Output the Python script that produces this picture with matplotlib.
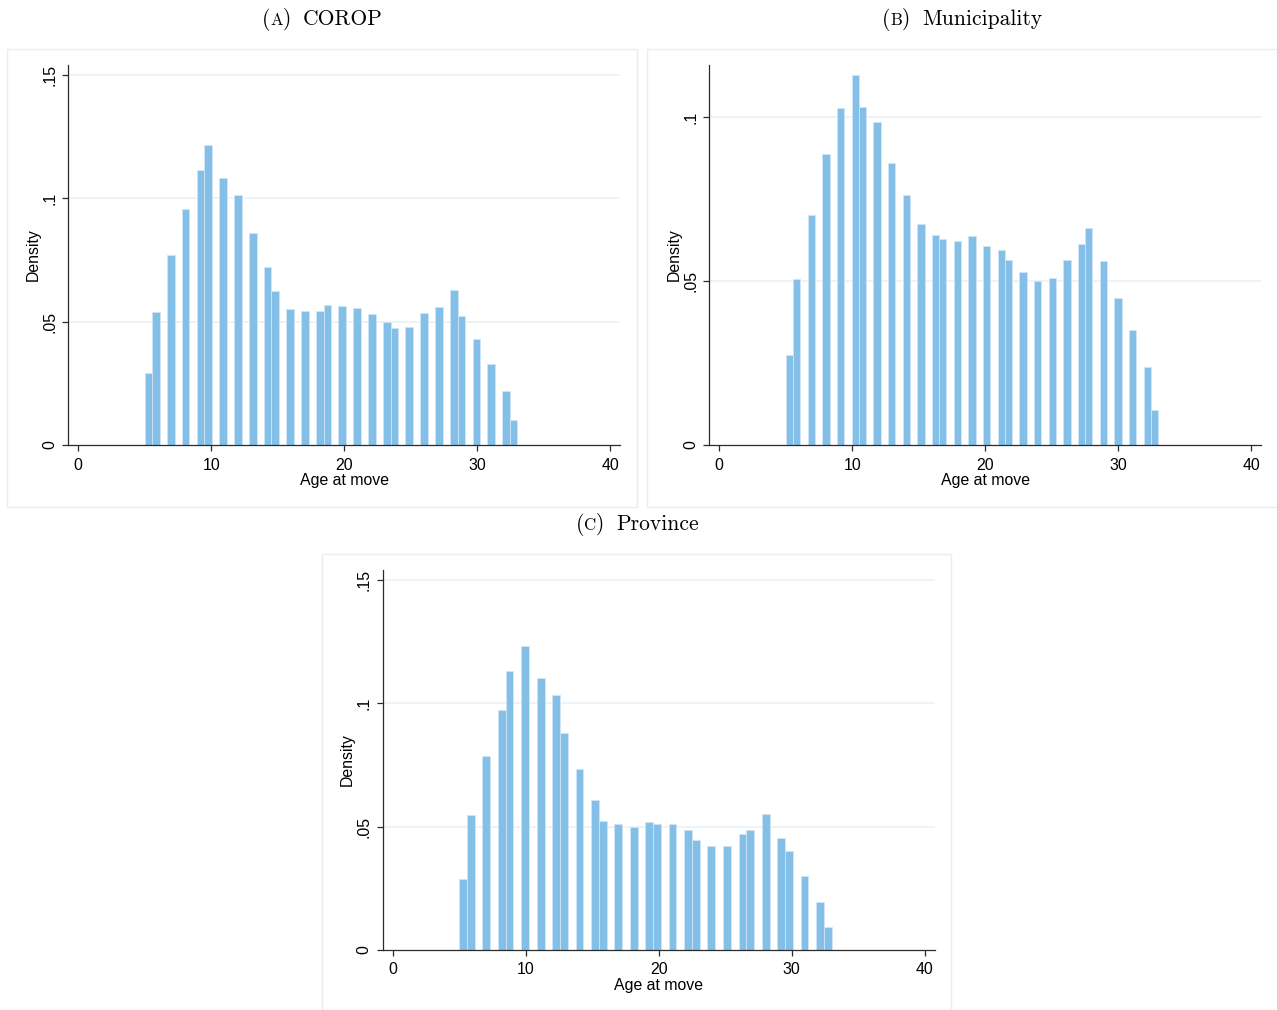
import numpy as np
import matplotlib
matplotlib.use("Agg")
import matplotlib.pyplot as plt
from matplotlib.patches import Rectangle

# ---------------- data ----------------
ages = np.arange(5, 34)          # age at move (integer years 5..33)
age_min, age_max = 5, 33

density_corop = [0.0293, 0.0538, 0.0772, 0.0958, 0.1114, 0.1215, 0.1084, 0.1015,
                 0.0859, 0.0720, 0.0623, 0.0550, 0.0542, 0.0545, 0.0568, 0.0565,
                 0.0554, 0.0531, 0.0497, 0.0473, 0.0480, 0.0534, 0.0561, 0.0627,
                 0.0522, 0.0428, 0.0327, 0.0220, 0.0100]
density_municipality = [0.0275, 0.0506, 0.0702, 0.0887, 0.1028, 0.1128, 0.1031, 0.0985,
                        0.0861, 0.0761, 0.0673, 0.0640, 0.0627, 0.0622, 0.0638, 0.0608,
                        0.0595, 0.0564, 0.0526, 0.0499, 0.0508, 0.0564, 0.0612, 0.0661,
                        0.0561, 0.0447, 0.0350, 0.0237, 0.0107]
density_province = [0.0288, 0.0547, 0.0786, 0.0972, 0.1131, 0.1232, 0.1103, 0.1032,
                    0.0878, 0.0732, 0.0607, 0.0522, 0.0509, 0.0497, 0.0519, 0.0509,
                    0.0509, 0.0486, 0.0445, 0.0420, 0.0420, 0.0472, 0.0488, 0.0553,
                    0.0454, 0.0400, 0.0300, 0.0196, 0.0093]

bins_corop, bins_municipality, bins_province = 50, 51, 48

xticks = [0, 10, 20, 30, 40]
xticklabels = ["0", "10", "20", "30", "40"]
yticks_wide = [0, 0.05, 0.10, 0.15]
yticklabels_wide = ["0", ".05", ".1", ".15"]
yticks_muni = [0, 0.05, 0.10]
yticklabels_muni = ["0", ".05", ".1"]

# ---------------- style ----------------
W, H = 1277, 1010
fig = plt.figure(figsize=(W / 100, H / 100), dpi=100)
fig.patch.set_facecolor("white")

SANS = ["Liberation Sans", "DejaVu Sans"]
BAR = "#84BFE8"
BAR_EDGE = "#CFE6F7"
GRID = "#E9F1F3"
FRAME = "#E6EEF0"
AXC = "#2b2b2b"
FS = 11.4


def fx(px):
    return px / W


def fy(py):
    return 1 - py / H


def frame(x0, y0, x1, y1):
    fig.patches.append(Rectangle((fx(x0), fy(y1)), fx(x1) - fx(x0), fy(y0) - fy(y1),
                                 transform=fig.transFigure, fill=False,
                                 edgecolor=FRAME, linewidth=1.0, zorder=0))


def panel(left_px, bottom_px, heights, nbins, ymax, yticks, yticklabels):
    ax = fig.add_axes([fx(left_px), fy(bottom_px), 552 / W, 380 / H])
    w = (age_max - age_min) / nbins
    idx = np.minimum(np.floor((ages - age_min) / w).astype(int), nbins - 1)
    lefts = age_min + idx * w
    ax.bar(lefts, heights, width=w, align="edge", color=BAR,
           edgecolor=BAR_EDGE, linewidth=0.6, zorder=2)
    ax.set_xlim(-0.75, 40.75)
    ax.set_ylim(0, ymax)
    for yv in yticks[1:]:
        ax.axhline(yv, color=GRID, linewidth=1.1, zorder=1)
    for s in ["top", "right"]:
        ax.spines[s].set_visible(False)
    for s in ["left", "bottom"]:
        ax.spines[s].set_color(AXC)
        ax.spines[s].set_linewidth(0.9)
    ax.set_xticks(xticks)
    ax.set_xticklabels(xticklabels, family=SANS, fontsize=FS)
    ax.set_yticks(yticks)
    ax.set_yticklabels(yticklabels, family=SANS, fontsize=FS, rotation=90, va="center")
    ax.tick_params(axis="both", direction="out", length=4, width=0.9, color=AXC)
    ax.tick_params(axis="x", pad=5)
    ax.tick_params(axis="y", pad=4)
    ax.set_xlabel("Age at move", family=SANS, fontsize=FS, va="center")
    ax.xaxis.set_label_coords(0.5, -0.094)
    ax.set_ylabel("Density", family=SANS, fontsize=FS, va="center")
    ax.yaxis.set_label_coords(-0.064, 0.5)
    return ax


def title(cx, base_py, letter, rest, size=15.5):
    renderer = fig.canvas.get_renderer()
    pieces = [("(", size, 0), (letter, size * 0.78, 0), (")", size, 0), (rest, size, 11.5)]
    texts, widths = [], []
    for s, fs, gap in pieces:
        t = fig.text(0, fy(base_py), s, family="cmr10", fontsize=fs, va="baseline", ha="left")
        texts.append(t)
        widths.append(t.get_window_extent(renderer).width)
    total = sum(widths) + sum(p[2] for p in pieces)
    x = cx - total / 2
    for t, wd, (s, fs, gap) in zip(texts, widths, pieces):
        x += gap
        t.set_x(fx(x))
        x += wd


frame(7, 49, 636.5, 506.5)
frame(647.3, 49.3, 1276.7, 507)
frame(321.7, 554.3, 951, 1009.5)

panel(68.3, 445, density_corop, bins_corop, 0.15 + 10 / 2467, yticks_wide, yticklabels_wide)
panel(709.3, 445, density_municipality, bins_municipality, 0.10 + 52 / 3278, yticks_muni, yticklabels_muni)
panel(382.7, 950, density_province, bins_province, 0.15 + 10 / 2467, yticks_wide, yticklabels_wide)

title(322, 25, "A", "COROP")
title(962, 25, "B", "Municipality")
title(637, 530, "C", "Province")

fig.savefig("out.png", dpi=100, facecolor="white")
